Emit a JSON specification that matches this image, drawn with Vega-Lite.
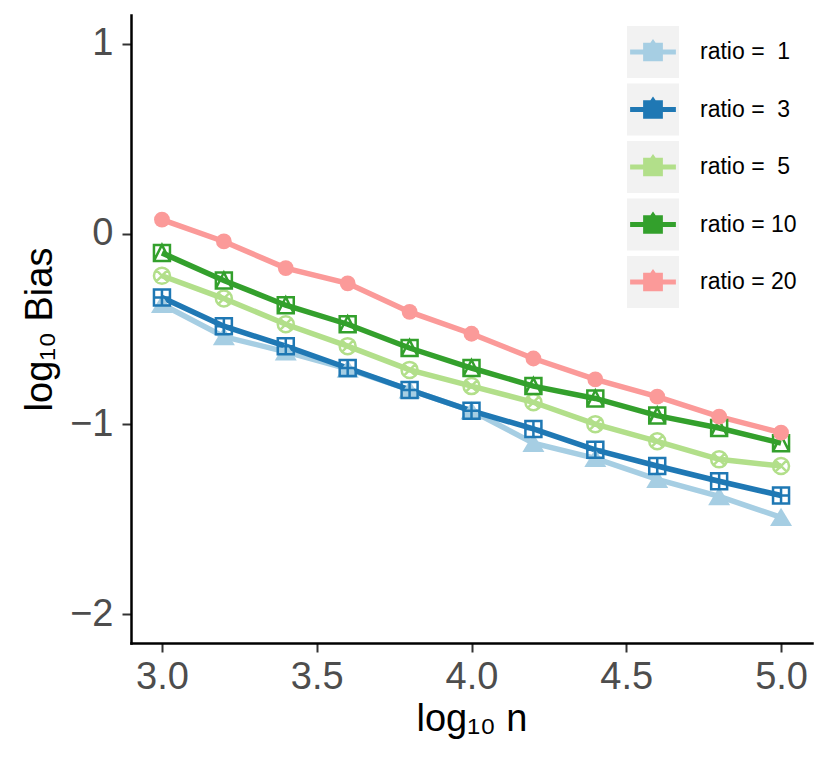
{
  "$schema": "https://vega.github.io/schema/vega-lite/v6.json",
  "autosize": "none",
  "width": 681,
  "height": 628,
  "padding": {"left": 131, "top": 15, "right": 18, "bottom": 124},
  "background": "white",
  "config": {
    "font": "Liberation Sans",
    "view": {"stroke": null}
  },
  "data": {
    "values": [
      {"n": 3.0, "bias": -0.37, "ratio": 1},
      {"n": 3.2, "bias": -0.54, "ratio": 1},
      {"n": 3.4, "bias": -0.62, "ratio": 1},
      {"n": 3.6, "bias": -0.71, "ratio": 1},
      {"n": 3.8, "bias": -0.82, "ratio": 1},
      {"n": 4.0, "bias": -0.93, "ratio": 1},
      {"n": 4.2, "bias": -1.10, "ratio": 1},
      {"n": 4.4, "bias": -1.18, "ratio": 1},
      {"n": 4.6, "bias": -1.29, "ratio": 1},
      {"n": 4.8, "bias": -1.38, "ratio": 1},
      {"n": 5.0, "bias": -1.49, "ratio": 1},
      {"n": 3.0, "bias": -0.335, "ratio": 3},
      {"n": 3.2, "bias": -0.485, "ratio": 3},
      {"n": 3.4, "bias": -0.59, "ratio": 3},
      {"n": 3.6, "bias": -0.705, "ratio": 3},
      {"n": 3.8, "bias": -0.82, "ratio": 3},
      {"n": 4.0, "bias": -0.93, "ratio": 3},
      {"n": 4.2, "bias": -1.025, "ratio": 3},
      {"n": 4.4, "bias": -1.135, "ratio": 3},
      {"n": 4.6, "bias": -1.22, "ratio": 3},
      {"n": 4.8, "bias": -1.30, "ratio": 3},
      {"n": 5.0, "bias": -1.375, "ratio": 3},
      {"n": 3.0, "bias": -0.22, "ratio": 5},
      {"n": 3.2, "bias": -0.34, "ratio": 5},
      {"n": 3.4, "bias": -0.475, "ratio": 5},
      {"n": 3.6, "bias": -0.59, "ratio": 5},
      {"n": 3.8, "bias": -0.715, "ratio": 5},
      {"n": 4.0, "bias": -0.80, "ratio": 5},
      {"n": 4.2, "bias": -0.885, "ratio": 5},
      {"n": 4.4, "bias": -1.0, "ratio": 5},
      {"n": 4.6, "bias": -1.09, "ratio": 5},
      {"n": 4.8, "bias": -1.185, "ratio": 5},
      {"n": 5.0, "bias": -1.22, "ratio": 5},
      {"n": 3.0, "bias": -0.10, "ratio": 10},
      {"n": 3.2, "bias": -0.245, "ratio": 10},
      {"n": 3.4, "bias": -0.375, "ratio": 10},
      {"n": 3.6, "bias": -0.475, "ratio": 10},
      {"n": 3.8, "bias": -0.60, "ratio": 10},
      {"n": 4.0, "bias": -0.705, "ratio": 10},
      {"n": 4.2, "bias": -0.80, "ratio": 10},
      {"n": 4.4, "bias": -0.865, "ratio": 10},
      {"n": 4.6, "bias": -0.955, "ratio": 10},
      {"n": 4.8, "bias": -1.02, "ratio": 10},
      {"n": 5.0, "bias": -1.10, "ratio": 10},
      {"n": 3.0, "bias": 0.075, "ratio": 20},
      {"n": 3.2, "bias": -0.04, "ratio": 20},
      {"n": 3.4, "bias": -0.18, "ratio": 20},
      {"n": 3.6, "bias": -0.26, "ratio": 20},
      {"n": 3.8, "bias": -0.41, "ratio": 20},
      {"n": 4.0, "bias": -0.525, "ratio": 20},
      {"n": 4.2, "bias": -0.655, "ratio": 20},
      {"n": 4.4, "bias": -0.765, "ratio": 20},
      {"n": 4.6, "bias": -0.855, "ratio": 20},
      {"n": 4.8, "bias": -0.96, "ratio": 20},
      {"n": 5.0, "bias": -1.045, "ratio": 20}
    ]
  },
  "encoding": {
    "x": {
      "field": "n", "type": "quantitative",
      "scale": {"domain": [2.9, 5.1], "nice": false, "zero": false},
      "axis": {
        "values": [3, 3.5, 4, 4.5, 5], "format": ".1f", "grid": false,
        "labelFontSize": 38, "labelColor": "#4D4D4D", "labelPadding": 6,
        "tickColor": "#333333", "tickWidth": 2, "tickSize": 9,
        "domainColor": "#000000", "domainWidth": 2.5, "domainCap": "square",
        "title": "log₁₀ n", "titleFontSize": 38, "titleFontWeight": "normal",
        "titleColor": "#000000", "titlePadding": 4
      }
    },
    "y": {
      "field": "bias", "type": "quantitative",
      "scale": {"domain": [-2.15, 1.15], "nice": false, "zero": false},
      "axis": {
        "values": [-2, -1, 0, 1], "grid": false,
        "labelExpr": "replace(format(datum.value, 'd'), '-', '−')",
        "labelFontSize": 38, "labelColor": "#4D4D4D", "labelPadding": 9,
        "tickColor": "#333333", "tickWidth": 2, "tickSize": 9,
        "domainColor": "#000000", "domainWidth": 2.5, "domainCap": "square",
        "title": "log₁₀ Bias", "titleFontSize": 38, "titleFontWeight": "normal",
        "titleColor": "#000000", "titlePadding": 10
      }
    }
  },
  "layer": [
    {
      "transform": [{"filter": "datum.ratio < 0"}],
      "mark": {"type": "point", "filled": true, "color": "#F2F2F2", "opacity": 1},
      "encoding": {
        "shape": {
          "field": "ratio", "type": "nominal",
          "scale": {"domain": ["a", "b", "c", "d", "e"], "range": ["square", "square", "square", "square", "square"]},
          "legend": {
            "orient": "none", "legendX": 496, "legendY": 11, "zindex": 0,
            "title": null, "padding": 0, "rowPadding": 5.5,
            "symbolType": "square", "symbolSize": 2704, "symbolStrokeWidth": 0,
            "symbolFillColor": "#F2F2F2", "labelOffset": 21, "labelFontSize": 23,
            "labelColor": "transparent", "labelExpr": "''",
            "encode": {"symbols": {"update": {"fill": {"value": "#F2F2F2"}, "stroke": {"value": "transparent"}, "strokeWidth": {"value": 0}, "opacity": {"value": 1}}}}
          }
        }
      }
    },
    {
      "mark": {"type": "line", "strokeWidth": 5.5},
      "encoding": {
        "color": {
          "field": "ratio", "type": "nominal",
          "scale": {"domain": [1, 3, 5, 10, 20], "range": ["#A6CEE3", "#1F78B4", "#B2DF8A", "#33A02C", "#FB9A99"]},
          "legend": {
            "orient": "none", "legendX": 496, "legendY": 11, "zindex": 1,
            "title": null, "padding": 0, "rowPadding": 5.5,
            "symbolType": "M-1,-1L-1,-1M1,1L1,1M-0.88,-0.1H0.88V0.1H-0.88Z M-0.38,-0.36H0.38V0.36H-0.38Z M-0.1,-0.36L0,-0.5L0.1,-0.36Z",
            "symbolSize": 2704, "symbolStrokeWidth": 0,
            "labelOffset": 21, "labelFontSize": 23, "labelColor": "#000000",
            "labelExpr": "'ratio\u00a0=\u00a0' + (datum.value < 10 ? '\u00a0' : '') + datum.value",
            "encode": {"symbols": {"update": {"fill": {"scale": "color", "field": "value"}, "stroke": {"value": "transparent"}, "strokeWidth": {"value": 0}, "opacity": {"value": 1}}}}
          }
        }
      }
    },
    {
      "transform": [{"filter": "datum.ratio == 1"}],
      "mark": {"type": "point", "filled": true, "color": "#A6CEE3", "opacity": 1, "size": 336, "shape": "M0,-1.05L1.2,0.95H-1.2Z"}
    },
    {
      "transform": [{"filter": "datum.ratio == 3"}],
      "mark": {"type": "point", "filled": false, "color": "#1F78B4", "opacity": 1, "strokeWidth": 2.5, "size": 256, "shape": "M-1,-1H1V1H-1Z M0,-1V1 M-1,0H1"}
    },
    {
      "transform": [{"filter": "datum.ratio == 5"}],
      "mark": {"type": "point", "filled": false, "color": "#B2DF8A", "opacity": 1, "strokeWidth": 2.5, "size": 256, "shape": "M-1,0A1,1 0 1,1 1,0A1,1 0 1,1 -1,0Z M-0.707,-0.707L0.707,0.707 M-0.707,0.707L0.707,-0.707"}
    },
    {
      "transform": [{"filter": "datum.ratio == 10"}],
      "mark": {"type": "point", "filled": false, "color": "#33A02C", "opacity": 1, "strokeWidth": 2.5, "size": 256, "shape": "M-1,-1H1V1H-1Z M-1,1L0,-1L1,1"}
    },
    {
      "transform": [{"filter": "datum.ratio == 20"}],
      "mark": {"type": "circle", "color": "#FB9A99", "opacity": 1, "size": 250}
    }
  ]
}
